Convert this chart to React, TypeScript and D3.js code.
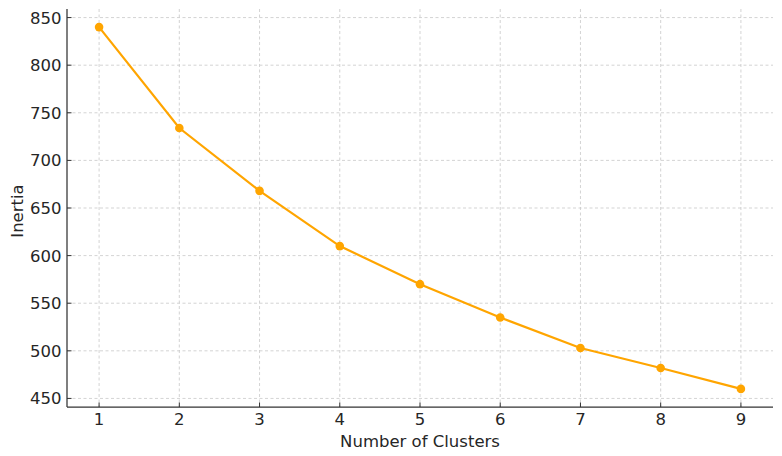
import React from "react";
import * as d3 from "d3";

const clusters = [1, 2, 3, 4, 5, 6, 7, 8, 9];
const inertia = [840, 734, 668, 610, 570, 535, 503, 482, 460];
const yTicks = [450, 500, 550, 600, 650, 700, 750, 800, 850];
const xTicks = [1, 2, 3, 4, 5, 6, 7, 8, 9];

const W = 782;
const H = 456;
const left = 67;
const right = 773;
const top = 9;
const bottom = 407;
const FONT = "DejaVu Sans, sans-serif";
const TEXT = "#262626";
const ORANGE = "#FFA500";
const FS = 16.5;

export default function App() {
  const x = d3.scaleLinear().domain([0.6, 9.4]).range([left, right]);
  const y = d3.scaleLinear().domain([441, 859]).range([bottom, top]);
  const pts: [number, number][] = clusters.map((c, i) => [c, inertia[i]]);
  const line = d3
    .line<[number, number]>()
    .x((d) => x(d[0]))
    .y((d) => y(d[1]));

  return (
    <svg
      width={W}
      height={H}
      style={{ position: "absolute", left: 0, top: 0, background: "#fff" }}
    >
      <rect x={0} y={0} width={W} height={H} fill="#fff" />
      {xTicks.map((t) => (
        <line
          key={"gx" + t}
          x1={x(t)}
          x2={x(t)}
          y1={top}
          y2={bottom}
          stroke="#c8c8c8"
          strokeWidth={0.8}
          strokeDasharray="3,2.5"
        />
      ))}
      {yTicks.map((t) => (
        <line
          key={"gy" + t}
          x1={left}
          x2={right}
          y1={y(t)}
          y2={y(t)}
          stroke="#c8c8c8"
          strokeWidth={0.8}
          strokeDasharray="3,2.5"
        />
      ))}
      <path d={line(pts) || ""} fill="none" stroke={ORANGE} strokeWidth={2.2} />
      {pts.map((p, i) => (
        <circle key={"p" + i} cx={x(p[0])} cy={y(p[1])} r={4.3} fill={ORANGE} />
      ))}
      <line x1={left} x2={left} y1={top} y2={bottom} stroke="#333" strokeWidth={1.25} />
      <line x1={left} x2={right} y1={bottom} y2={bottom} stroke="#333" strokeWidth={1.25} />
      {xTicks.map((t) => (
        <g key={"xt" + t}>
          <line x1={x(t)} x2={x(t)} y1={bottom} y2={bottom - 4.5} stroke="#333" strokeWidth={1} />
          <text
            x={x(t)}
            y={425}
            textAnchor="middle"
            fontFamily={FONT}
            fontSize={FS}
            fill={TEXT}
          >
            {t}
          </text>
        </g>
      ))}
      {yTicks.map((t) => (
        <g key={"yt" + t}>
          <line x1={left} x2={left + 4.5} y1={y(t)} y2={y(t)} stroke="#333" strokeWidth={1} />
          <text
            x={61.5}
            y={y(t)}
            dy="0.36em"
            textAnchor="end"
            fontFamily={FONT}
            fontSize={FS}
            fill={TEXT}
          >
            {t}
          </text>
        </g>
      ))}
      <text
        x={(left + right) / 2}
        y={447}
        textAnchor="middle"
        fontFamily={FONT}
        fontSize={FS}
        fill={TEXT}
      >
        Number of Clusters
      </text>
      <text
        transform={`translate(23, ${(top + bottom) / 2 + 3}) rotate(-90)`}
        textAnchor="middle"
        fontFamily={FONT}
        fontSize={FS}
        fill={TEXT}
      >
        Inertia
      </text>
    </svg>
  );
}
